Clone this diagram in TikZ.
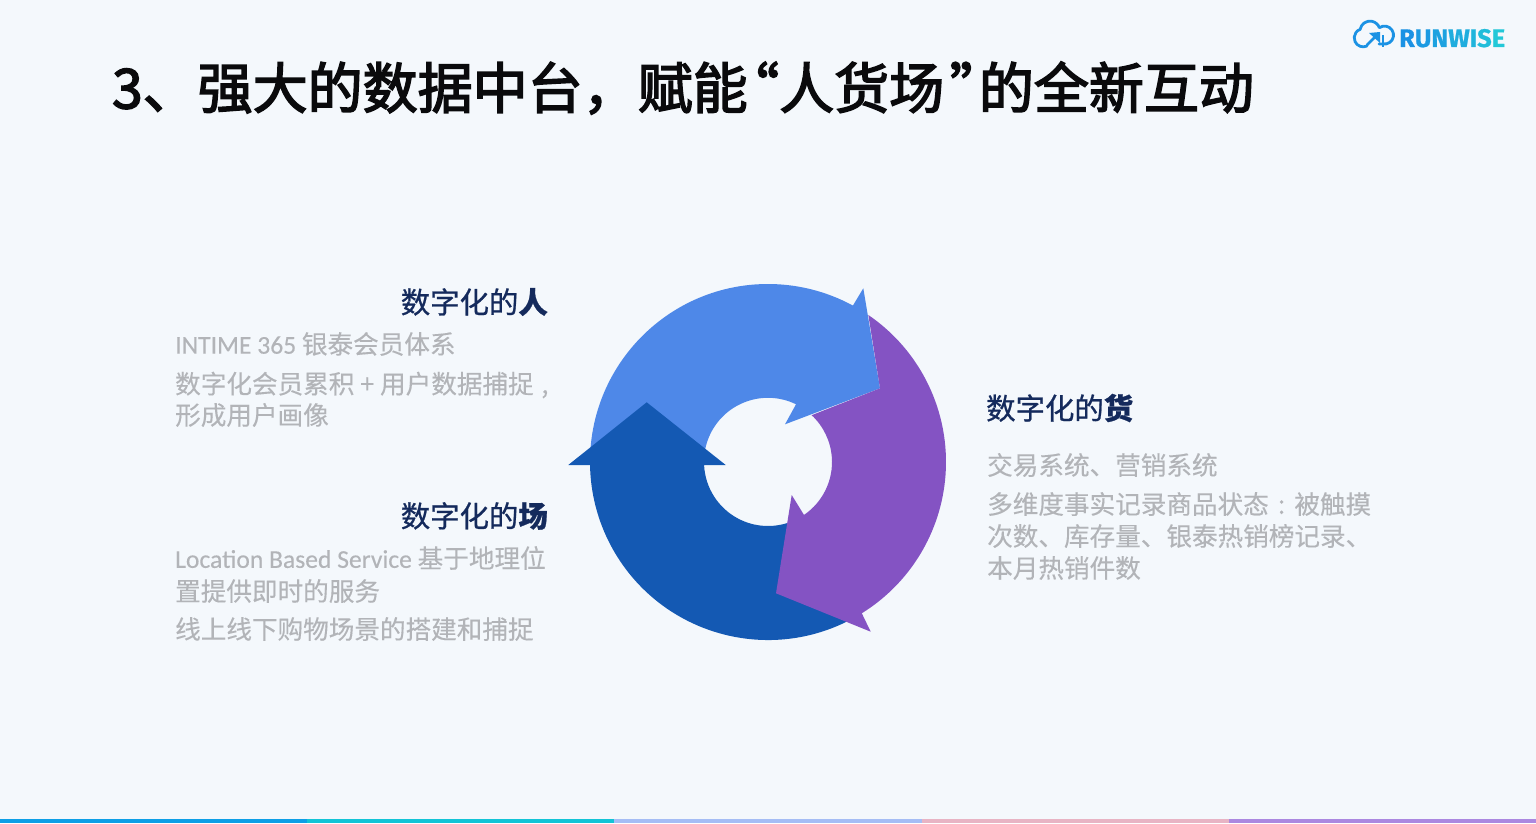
\documentclass[tikz,border=0pt]{standalone}
\usepackage{xcolor}
\usepackage{fontspec}
\usepackage{tikz}
\usetikzlibrary{calc}
\setmainfont[FakeBold=0.25]{Noto Sans CJK SC}
\newfontfamily\titlefont[FakeBold=2.8]{Noto Sans CJK SC}
\newfontfamily\headfont[FakeBold=0.8]{Noto Sans CJK SC}
\newfontfamily\latinfont[FakeBold=0.25]{Carlito}
\newfontfamily\logofont[FakeBold=0.8]{Fira Sans}
\definecolor{figbg}{RGB}{244,248,252}
\definecolor{figink}{RGB}{10,10,12}
\definecolor{fignavy}{RGB}{20,42,92}
\definecolor{figgrey}{RGB}{178,180,184}
\definecolor{arrowlight}{RGB}{78,136,232}
\definecolor{arrowdark}{RGB}{20,89,179}
\definecolor{arrowpurple}{RGB}{132,83,195}
\definecolor{logoblue}{RGB}{27,146,228}
\definecolor{logocyan}{RGB}{34,200,216}
\definecolor{barA}{RGB}{13,159,230}
\definecolor{barB}{RGB}{18,196,214}
\definecolor{barC}{RGB}{165,189,245}
\definecolor{barD}{RGB}{232,180,196}
\definecolor{barE}{RGB}{171,136,224}

\begin{document}
\begin{tikzpicture}[
  x=1pt, y=1pt,
  heading/.style={text=fignavy, inner sep=0pt, font=\fontsize{29.4}{32}\selectfont\headfont},
  bodyline/.style={text=figgrey, inner sep=0pt, anchor=west, font=\fontsize{25.6}{30}\selectfont},
]
  \useasboundingbox (0,0) rectangle (1536,823);
  \fill[figbg] (0,0) rectangle (1536,823);

  % bottom strip
  \foreach \i/\barcol in {0/barA, 1/barB, 2/barC, 3/barD, 4/barE} {
    \fill[\barcol] ({\i*307.2},0) rectangle ({(\i+1)*307.2},4);
  }

  \node[anchor=west, inner sep=0pt, text=figink, font=\fontsize{55}{60}\selectfont\titlefont] (title) at (112,735)
    {3、强大的数据中台^^^^ff0c赋能\kern-.427em“人货场\kern.1em”\kern-.47em的全新互动};

  % logo: cloud outline, arrow and word
  \draw[logoblue, line width=2.8pt, line cap=round, line join=round]
    (1367,777) arc[start angle=-65, end angle=-250, radius=9pt]
    arc[start angle=170, end angle=20, radius=10pt]
    arc[start angle=125, end angle=-100, radius=9pt] -- ++(-4,0);
  \draw[logoblue, line width=2.8pt, line cap=round] (1367,778) -- (1377,788);
  \fill[logoblue] (1380,791) -- (1369,790) -- (1380,780) -- cycle;
  \draw[logoblue, line width=2.8pt] (1383,776) -- (1383,788);
  \node[anchor=base west, inner sep=0pt, font=\fontsize{25.4}{27}\selectfont\logofont\bfseries] (logo) at (1399,776)
    {\textcolor{logoblue}{R}\textcolor{logocyan!15!logoblue}{U}\textcolor{logocyan!30!logoblue}{N}\textcolor{logocyan!50!logoblue}{W}\textcolor{logocyan!65!logoblue}{I}\textcolor{logocyan!80!logoblue}{S}\textcolor{logocyan}{E}};

  % ring of three arrows
  \coordinate (ring) at (768,361);
  \coordinate (headlight) at (880,434.7);
  \fill[arrowlight] ($(ring)+(181:178)$) arc[start angle=181, end angle=61.5, radius=178pt]
    -- (863.3,534.7) -- (headlight) -- (785,398.7) -- (796,418.7)
    arc[start angle=64, end angle=182.7, radius=64pt] -- cycle;
  \fill[arrowdark] (568.3,358) -- (646.7,420.7) -- (725.7,358) -- ($(ring)+(182.7:64)$)
    arc[start angle=182.7, end angle=290, radius=64pt]
    -- ($(ring)+(298:178)$) arc[start angle=298, end angle=181, radius=178pt] -- cycle;
  \fill[arrowpurple] ($(ring)+(55.7:178)$) arc[start angle=55.7, end angle=-58.2, radius=178pt]
    -- (870.7,191.3) -- (776,229.7) -- (791.7,328) -- ($(ring)+(-55.8:64)$)
    arc[start angle=-55.8, end angle=47, radius=64pt] -- (headlight) -- cycle;

  % left and right text
  \node[heading, anchor=east] (people) at (548,521) {数字化的{\bfseries 人}};
  \node[heading, anchor=east] (place) at (548,307) {数字化的{\bfseries 场}};
  \node[heading, anchor=west] (goods) at (986,415) {数字化的{\bfseries 货}};
  \foreach \x/\y/\lab in {
    175/479/{{\latinfont INTIME 365} 银泰会员体系},
    175/438/{数字化会员累积 + 用户数据捕捉\hspace{.3em},},
    175/408/{形成用户画像},
    175/265/{{\latinfont Location Based Service} 基于地理位},
    175/232/{置提供即时的服务},
    175/194/{线上线下购物场景的搭建和捕捉},
    987/358/{交易系统、营销系统},
    987/319/{多维度事实记录商品状态\makebox[1em]{:}被触摸},
    987/287/{次数、库存量、银泰热销榜记录、},
    987/255/{本月热销件数}} {
    \node[bodyline] at (\x,\y) {\lab};
  }
\end{tikzpicture}
\end{document}
